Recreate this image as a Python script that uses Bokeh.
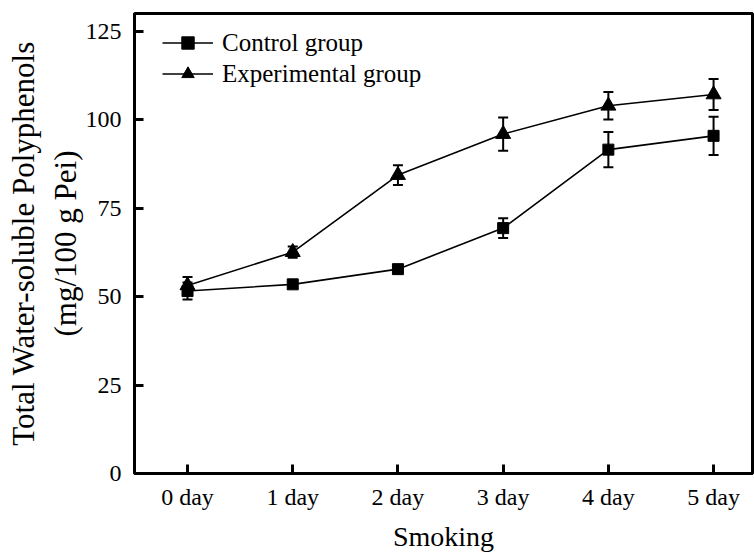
from bokeh.plotting import figure
from bokeh.models import (Range1d, FixedTicker, Whisker, TeeHead, ColumnDataSource,
                          Legend, LegendItem)
from bokeh.embed import file_html
from bokeh.resources import INLINE

# Smoking time points
days = ["0 day", "1 day", "2 day", "3 day", "4 day", "5 day"]

# Total water-soluble polyphenols (mg/100 g Pei), mean and SD
control_mean = [51.6, 53.5, 57.8, 69.4, 91.6, 95.5]
control_sd = [2.4, 1.0, 1.0, 2.8, 5.0, 5.4]
exp_mean = [53.2, 62.6, 84.4, 96.0, 104.0, 107.2]
exp_sd = [2.4, 1.6, 2.8, 4.7, 3.9, 4.4]

y_ticks = [0, 25, 50, 75, 100, 125]

FONT = "Liberation Serif"

x = list(range(len(days)))

ctrl = ColumnDataSource(dict(
    x=x, y=control_mean,
    lo=[m - s for m, s in zip(control_mean, control_sd)],
    hi=[m + s for m, s in zip(control_mean, control_sd)],
))
expt = ColumnDataSource(dict(
    x=x, y=exp_mean,
    lo=[m - s for m, s in zip(exp_mean, exp_sd)],
    hi=[m + s for m, s in zip(exp_mean, exp_sd)],
))

p = figure(width=754, height=555, output_backend="svg", toolbar_location=None,
           x_range=Range1d(-0.504, 5.37), y_range=Range1d(0, 130.1),
           min_border_left=134, min_border_right=2, min_border_top=13,
           min_border_bottom=82)

p.background_fill_color = "white"
p.border_fill_color = "white"
p.grid.visible = False
p.outline_line_color = "black"
p.outline_line_width = 3

# error bars
for src in (ctrl, expt):
    w = Whisker(source=src, base="x", lower="lo", upper="hi",
                line_color="black", line_width=2,
                upper_head=TeeHead(size=10, line_color="black", line_width=2),
                lower_head=TeeHead(size=10, line_color="black", line_width=2))
    p.add_layout(w)

c_line = p.line("x", "y", source=ctrl, line_color="black", line_width=1.6)
c_mark = p.scatter("x", "y", source=ctrl, marker="square", size=11,
                   fill_color="black", line_color="black")
e_line = p.line("x", "y", source=expt, line_color="black", line_width=1.6)
e_mark = p.scatter("x", "y", source=expt, marker="triangle", size=15,
                   fill_color="black", line_color="black")

legend = Legend(items=[
    LegendItem(label="Control group", renderers=[c_line, c_mark]),
    LegendItem(label="Experimental group", renderers=[e_line, e_mark]),
], location=(28, 384), orientation="vertical")
legend.background_fill_alpha = 0
legend.border_line_color = None
legend.padding = 0
legend.margin = 0
legend.spacing = 0
legend.glyph_width = 51
legend.glyph_height = 31
legend.label_height = 31
legend.label_standoff = 9
legend.label_text_font = FONT
legend.label_text_font_size = "25px"
legend.label_text_color = "black"
p.add_layout(legend)

# x axis
xa = p.xaxis[0]
xa.ticker = FixedTicker(ticks=x)
xa.major_label_overrides = {i: d for i, d in enumerate(days)}
xa.minor_tick_line_color = None
xa.axis_label = "Smoking"

# y axis
ya = p.yaxis[0]
ya.ticker = FixedTicker(ticks=y_ticks)
ya.minor_tick_line_color = None
ya.axis_label = "Total Water-soluble Polyphenols\n(mg/100 g Pei)"

for ax in (xa, ya):
    ax.axis_line_color = "black"
    ax.axis_line_width = 3
    ax.major_tick_line_color = "black"
    ax.major_tick_line_width = 3
    ax.major_tick_in = 9
    ax.major_tick_out = 0
    ax.major_label_text_font = FONT
    ax.major_label_text_font_size = "24px"
    ax.major_label_text_color = "black"
    ax.axis_label_text_font = FONT
    ax.axis_label_text_font_style = "normal"
    ax.axis_label_text_color = "black"

xa.axis_label_text_font_size = "28px"
ya.axis_label_text_font_size = "31px"
ya.axis_label_text_line_height = 1.2

xa.major_label_standoff = 10
xa.axis_label_standoff = 8
ya.major_label_standoff = 13
ya.axis_label_standoff = 0

open("out.html", "w").write(file_html(p, INLINE))
